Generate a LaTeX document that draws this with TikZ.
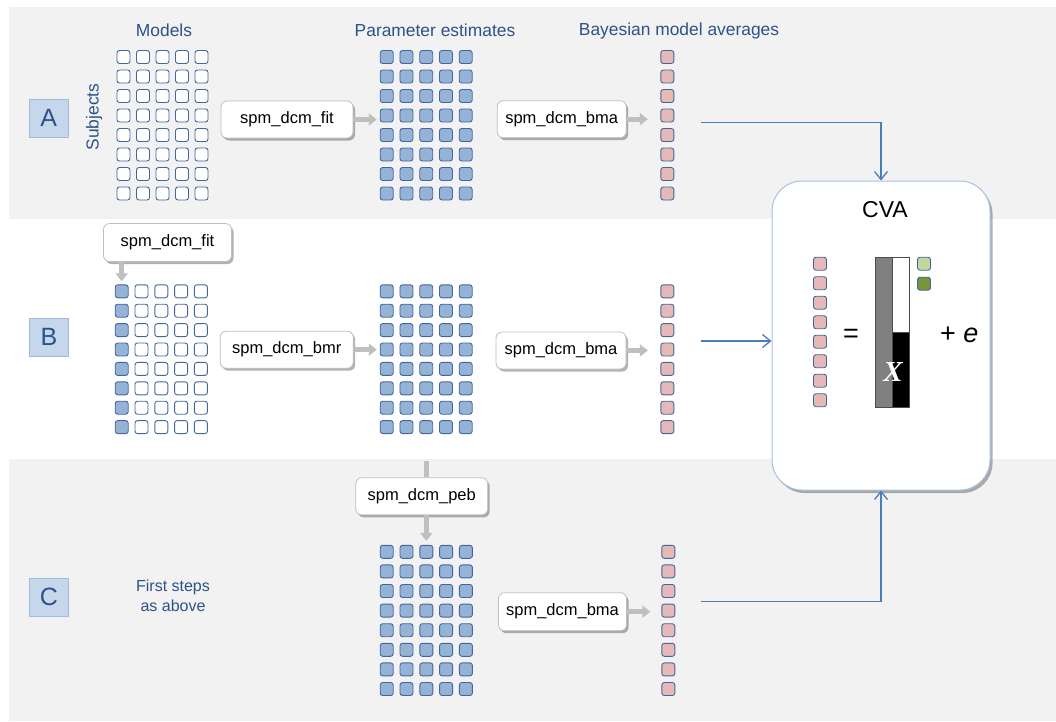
\documentclass[tikz,border=0pt]{standalone}
\usepackage{fontspec}
\setmainfont{Liberation Sans}
\newfontfamily\xserif{Liberation Serif}
\usetikzlibrary{arrows.meta,shadows,calc}

\definecolor{panel}{HTML}{F2F2F2}
\definecolor{txtblue}{HTML}{2D5289}
\definecolor{sqedge}{HTML}{44679B}
\definecolor{sqblue}{HTML}{95B3D7}
\definecolor{sqpink}{HTML}{E6B9B8}
\definecolor{letfill}{HTML}{C6D7EC}
\definecolor{letedge}{HTML}{A0BBDF}
\definecolor{cvaedge}{HTML}{A6C1E2}
\definecolor{conblue}{HTML}{4A7EBB}
\definecolor{lgreen}{HTML}{C3D69B}
\definecolor{dgreen}{HTML}{77933C}

\tikzset{
 sq/.style={draw=sqedge, line width=0.9pt, rounded corners=2.5pt, minimum width=13pt, minimum height=13pt, inner sep=0pt},
 sqw/.style={sq, fill=white},
 sqb/.style={sq, fill=sqblue},
 sqp/.style={sq, fill=sqpink},
 proc/.style={draw=black!25, fill=white, rounded corners=6pt, line width=0.8pt, minimum height=37pt, inner sep=0pt, font=\fontsize{16.5}{19}\selectfont, drop shadow={shadow xshift=2pt, shadow yshift=-2.5pt, opacity=0.3, fill=black}},
 lbl/.style={text=txtblue, font=\fontsize{16}{20}\selectfont, inner sep=0pt},
 hdr/.style={text=txtblue, font=\fontsize{17.4}{20}\selectfont, inner sep=0pt},
 letter/.style={draw=letedge, fill=letfill, line width=1pt, minimum width=39pt, minimum height=38pt, inner sep=0pt, text=txtblue, font=\fontsize{25}{30}\selectfont},
 garrow/.style={draw=gray!50, line width=5pt, -{Triangle[length=8pt,width=12pt]}},
 gline/.style={draw=gray!50, line width=5pt},
 bconn/.style={draw=conblue, line width=1.3pt, -{Straight Barb[length=8pt,width=13pt]}},
 eqtext/.style={font=\fontsize{27}{30}\selectfont, inner sep=0pt},
}

\begin{document}
\begin{tikzpicture}[x=1pt,y=-1pt]
\useasboundingbox (0,0) rectangle (1056,721);
% panels
\fill[panel] (9,7) rectangle (1056,219);
\fill[panel] (9,459) rectangle (1056,721);

% headers
\node[hdr, anchor=base] (hmod) at (164,36) {Models};
\node[hdr, anchor=base] (hpar) at (435,36) {Parameter estimates};
\node[hdr, anchor=base] (hbma) at (679,35) {Bayesian model averages};
\node[hdr, rotate=90] (hsub) at (94,117) {Subjects};

% letters
\node[letter] (la) at (48.8,118.2) {A};
\node[letter] (lb) at (49,337) {B};
\node[letter] (lc) at (49,597) {C};

\node[lbl, align=center] (first) at (173,596) {First steps\\as above};

% ---- panel A grids
\foreach \i in {1,...,5}{\foreach \j in {1,...,8}{
  \node[sqw] (mA-\i-\j) at ({123.5+19.5*(\i-1)},{57+19.5*(\j-1)}) {};
  \node[sqb] (pA-\i-\j) at ({386.7+19.75*(\i-1)},{57+19.5*(\j-1)}) {};
}}
\foreach \j in {1,...,8}{\node[sqp] (bA-\j) at (667.3,{57+19.5*(\j-1)}) {};}

% ---- panel B grids
\foreach \j in {1,...,8}{
  \node[sqb] (mB-1-\j) at (121.7,{291.3+19.4*(\j-1)}) {};
  \node[sqp] (bB-\j) at (667.3,{291.3+19.4*(\j-1)}) {};
}
\foreach \i in {2,...,5}{\foreach \j in {1,...,8}{
  \node[sqw] (mB-\i-\j) at ({121.7+19.8*(\i-1)},{291.3+19.4*(\j-1)}) {};
}}
\foreach \i in {1,...,5}{\foreach \j in {1,...,8}{
  \node[sqb] (pB-\i-\j) at ({386.7+19.75*(\i-1)},{291.3+19.4*(\j-1)}) {};
}}

% ---- panel C grids
\foreach \i in {1,...,5}{\foreach \j in {1,...,8}{
  \node[sqb] (pC-\i-\j) at ({386.7+19.8*(\i-1)},{551.8+19.6*(\j-1)}) {};
}}
\foreach \j in {1,...,8}{\node[sqp] (bC-\j) at (668.3,{551.8+19.6*(\j-1)}) {};}

% ---- process boxes
\node[proc, minimum width=132pt] (fitA) at (287,119.5) {spm\_dcm\_fit};
\node[proc, minimum width=129pt] (bmaA) at (561.7,119.2) {spm\_dcm\_bma};
\node[proc, minimum width=128pt, minimum height=38pt] (fitB) at (167.5,242.5) {spm\_dcm\_fit};
\node[proc, minimum width=133pt] (bmr) at (286.7,349.7) {spm\_dcm\_bmr};
\node[proc, minimum width=130pt] (bmaB) at (561,350.5) {spm\_dcm\_bma};
\node[proc, minimum width=132pt] (peb) at (421.7,496.3) {spm\_dcm\_peb};
\node[proc, minimum width=128pt, minimum height=38pt] (bmaC) at (562.5,611.7) {spm\_dcm\_bma};

% ---- gray arrows
\draw[garrow, shorten >=3pt] (fitA.east) -- (fitA.east -| pA-1-1.west);
\draw[garrow, shorten >=12.5pt] (bmaA.east) -- (bmaA.east -| bA-1.west);
\draw[garrow, shorten >=3pt] (fitB.south -| mB-1-1) -- (mB-1-1.north);
\draw[garrow, shorten >=3pt] (bmr.east) -- (bmr.east -| pB-1-1.west);
\draw[garrow, shorten >=12.5pt] (bmaB.east) -- (bmaB.east -| bB-1.west);
\coordinate (pebtop) at ($(pC-3-1.north |- peb.north)+(0,-16)$);
\draw[gline] (pebtop) -- (pebtop |- peb.north);
\draw[garrow, shorten >=4pt] (peb.south -| pebtop) -- (pC-3-1.north);
\draw[garrow, shorten >=11pt] (bmaC.east) -- (bmaC.east -| bC-1.west);

% ---- CVA box
\node[draw=cvaedge, fill=white, line width=1pt, rounded corners=30pt, minimum width=218pt, minimum height=309pt, inner sep=0pt,
      drop shadow={shadow xshift=2.5pt, shadow yshift=-3pt, opacity=0.3, fill=black}] (cva) at (881,335.5) {};
\node[font=\fontsize{23}{26}\selectfont, inner sep=0pt, anchor=base] (cvat) at (885,217.7) {CVA};
\foreach \j in {1,...,8}{\node[sqp] (yC-\j) at (820,{263.7+19.5*(\j-1)}) {};}
\node[eqtext, anchor=base] (eq) at (851,342) {=};
% design matrix bar
\fill[black!50] (875.3,257.3) rectangle (892.5,407.3);
\fill[white] (892.5,257.3) rectangle (909,332.3);
\fill[black] (892.5,332.3) rectangle (909,407.3);
\draw[black!70, line width=0.8pt] (875.3,257.3) rectangle (909,407.3);
\draw[black!70, line width=0.8pt] (892.5,257.3) -- (892.5,407.3);
\draw[black!70, line width=0.8pt] (892.5,332.3) -- (909,332.3);
\node[text=white, font=\xserif\bfseries\itshape\fontsize{29}{31}\selectfont, inner sep=0pt] (xlab) at (893,372) {X};
\node[sq, fill=lgreen] (g1) at (924,263.7) {};
\node[sq, fill=dgreen] (g2) at (924,283.7) {};
\node[eqtext, anchor=base] (pe) at (959.2,342) {+ \textit{e}};

% ---- blue connectors
\coordinate (sA) at (701,122.3);
\coordinate (sB) at (701,341);
\coordinate (sC) at (701,601.7);
\draw[bconn] (sA) -| (cva.north);
\draw[bconn] (sB) -- (sB -| cva.west);
\draw[bconn] (sC) -| (cva.south);
\end{tikzpicture}
\end{document}
